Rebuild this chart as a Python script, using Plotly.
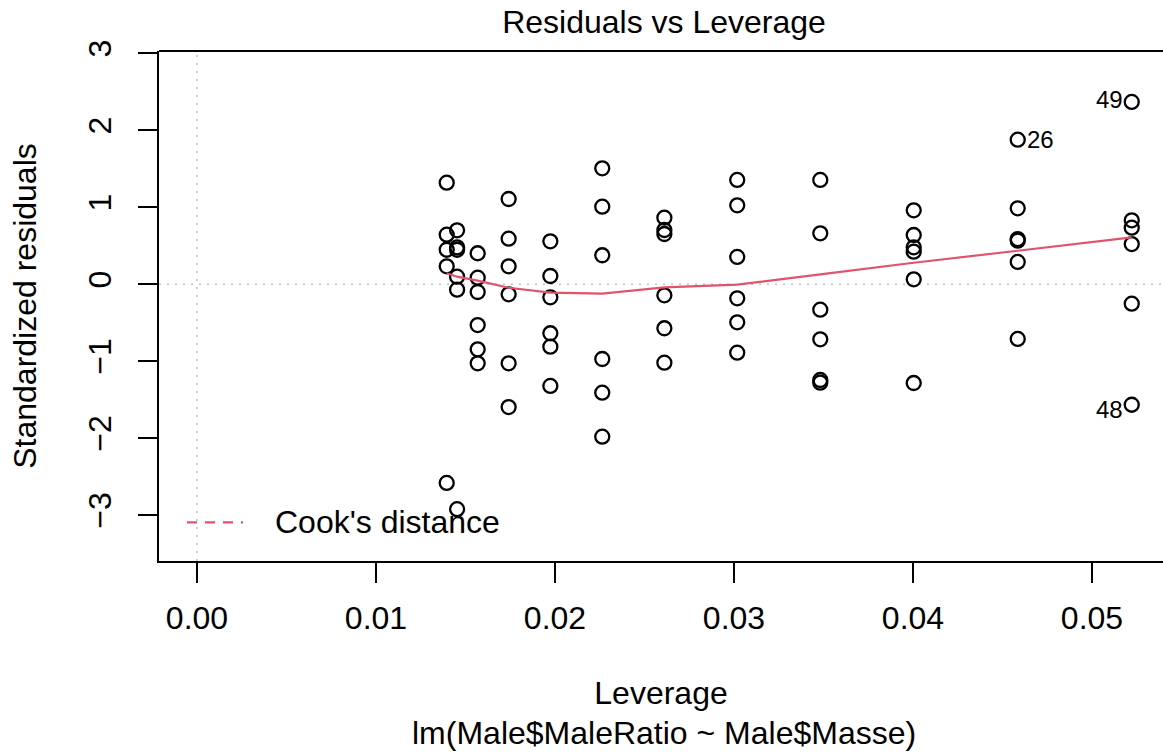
import plotly.graph_objects as go

# Leverage levels (hat values) and standardized residuals at each level
leverage_levels = [0.01395, 0.01453, 0.01568, 0.01741, 0.01974, 0.02264,
                   0.02611, 0.03018, 0.03482, 0.04004, 0.04585, 0.05222]

std_resid_by_level = [
    [1.32, 0.644, 0.449, 0.234, -2.58],
    [0.701, 0.48, 0.449, 0.099, -0.07, -2.92],
    [0.403, 0.086, -0.10, -0.529, -0.844, -1.026],
    [1.108, 0.593, 0.234, -0.13, -1.026, -1.594],
    [0.558, 0.108, -0.169, -0.636, -0.81, -1.32],
    [1.506, 1.008, 0.377, -0.97, -1.408, -1.979],
    [0.865, 0.705, 0.653, -0.143, -0.571, -1.018],
    [1.355, 1.026, 0.355, -0.182, -0.494, -0.888],
    [1.355, 0.662, -0.33, -0.714, -1.243, -1.278],
    [0.961, 0.64, 0.48, 0.424, 0.065, -1.282],
    [1.878, 0.987, 0.588, 0.566, 0.29, -0.71],
    [2.368, 0.831, 0.735, 0.523, -0.252, -1.564],
]

# Smoothed trend of residuals at each leverage level
smooth_resid = [0.143, 0.099, 0.047, -0.045, -0.109, -0.122,
                -0.04, -0.005, 0.13, 0.28, 0.436, 0.61]

# Labelled observations: (id, leverage, residual, side)
label_ids = ["49", "26", "48"]
label_lev = [0.05222, 0.04585, 0.05222]
label_res = [2.368, 1.878, -1.564]
label_side = ["left", "right", "left"]

x_ticks = [0.00, 0.01, 0.02, 0.03, 0.04, 0.05]
x_tick_text = ["0.00", "0.01", "0.02", "0.03", "0.04", "0.05"]
y_ticks = [-3, -2, -1, 0, 1, 2, 3]
y_tick_text = ["\u22123", "\u22122", "\u22121", "0", "1", "2", "3"]

FONT = "Liberation Sans, Arial, Helvetica, sans-serif"
FS = 32
RED = "#DF536B"
GRAY = "#BEBEBE"

pts_x, pts_y = [], []
for lev, vals in zip(leverage_levels, std_resid_by_level):
    for v in vals:
        pts_x.append(lev)
        pts_y.append(v)

x_range = [-0.002123, 0.053966]
y_range = [-3.5935, 3.0299]

fig = go.Figure()

# reference lines at zero
fig.add_trace(go.Scatter(x=[0, 0], y=y_range, mode="lines",
                         line=dict(color=GRAY, width=1.5, dash="2px,6px"),
                         hoverinfo="skip", showlegend=False))
fig.add_trace(go.Scatter(x=x_range, y=[0, 0], mode="lines",
                         line=dict(color=GRAY, width=1.5, dash="2px,6px"),
                         hoverinfo="skip", showlegend=False))

fig.add_trace(go.Scatter(x=pts_x, y=pts_y, mode="markers",
                         marker=dict(symbol="circle-open", size=14,
                                     color="black", line=dict(width=2.3, color="black")),
                         showlegend=False))

fig.add_trace(go.Scatter(x=leverage_levels, y=smooth_resid, mode="lines",
                         line=dict(color=RED, width=2.2), showlegend=False))

for lid, lx, ly, side in zip(label_ids, label_lev, label_res, label_side):
    fig.add_annotation(x=lx, y=ly, text=lid, showarrow=False,
                       xanchor="right" if side == "left" else "left",
                       xshift=-7 if side == "left" else 7,
                       yshift=0 if lid == "26" else (2 if lid == "49" else -5),
                       font=dict(family=FONT, size=24, color="black"))

# Cook's distance key
fig.add_shape(type="line", xref="paper", yref="paper",
              x0=0.0279, x1=0.0837, y0=0.0759, y1=0.0759,
              line=dict(color=RED, width=2.2, dash="10px,8px"))
fig.add_annotation(xref="paper", yref="paper", x=0.1135, y=0.0759,
                   text="Cook's distance", showarrow=False,
                   xanchor="left", yanchor="middle",
                   font=dict(family=FONT, size=FS, color="black"))

# top border of the frame
fig.add_shape(type="line", xref="paper", yref="paper",
              x0=0, x1=1, y0=1, y1=1, line=dict(color="black", width=2))

# sub caption
fig.add_annotation(xref="paper", yref="paper", x=0.503, y=-0.338,
                   text="lm(Male$MaleRatio ~ Male$Masse)", showarrow=False,
                   xanchor="center", yanchor="middle",
                   font=dict(family=FONT, size=FS, color="black"))

fig.update_layout(
    width=1163, height=752,
    margin=dict(l=159, r=0, t=51, b=191),
    paper_bgcolor="white", plot_bgcolor="white",
    font=dict(family=FONT, size=FS, color="black"),
    title=dict(text="Residuals vs Leverage", x=0.503, xref="paper",
               xanchor="center", y=1 - 22 / 752, yanchor="middle",
               font=dict(family=FONT, size=FS, color="black")),
    xaxis=dict(range=x_range, tickvals=x_ticks, ticktext=x_tick_text,
               showgrid=False, zeroline=False, showline=True,
               linecolor="black", linewidth=2, ticks="outside",
               ticklen=20, tickwidth=2, tickcolor="black",
               ticklabelstandoff=8,
               tickfont=dict(family=FONT, size=FS, color="black"),
               title=dict(text="Leverage", standoff=46,
                          font=dict(family=FONT, size=FS, color="black"))),
    yaxis=dict(range=y_range, tickvals=y_ticks, ticktext=y_tick_text,
               tickangle=-90,
               showgrid=False, zeroline=False, showline=True,
               linecolor="black", linewidth=2, ticks="outside",
               ticklen=19, tickwidth=2, tickcolor="black",
               ticklabelstandoff=14,
               tickfont=dict(family=FONT, size=FS, color="black"),
               title=dict(text="Standardized residuals", standoff=36,
                          font=dict(family=FONT, size=FS, color="black"))),
)

fig.write_html("out.html")
